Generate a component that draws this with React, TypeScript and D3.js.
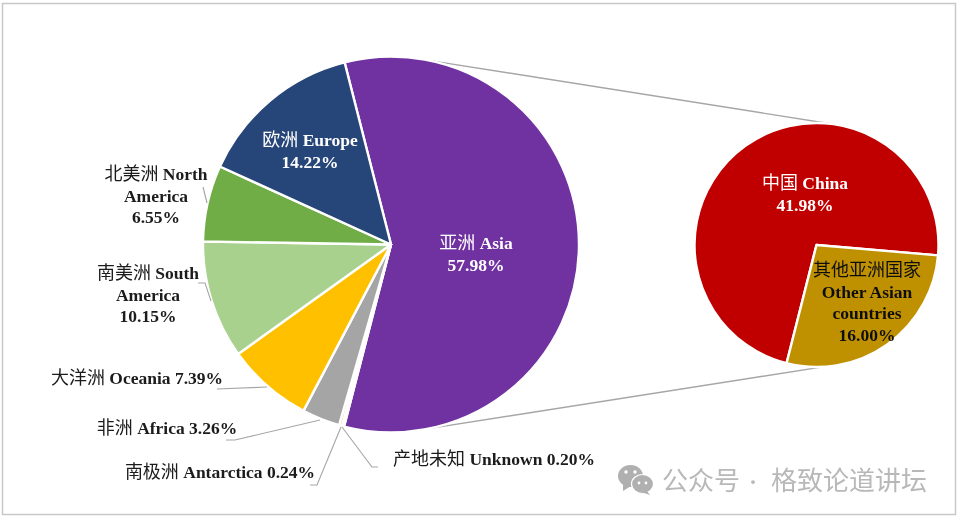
import React from "react";
import * as d3 from "d3";

const mainNames = ["Asia", "Unknown", "Antarctica", "Africa", "Oceania", "South America", "North America", "Europe"];
const mainValues = [57.98, 0.2, 0.24, 3.26, 7.39, 10.15, 6.55, 14.22];
const mainColors = ["#7030A0", "#F4B183", "#F4B183", "#A5A5A5", "#FFC000", "#A9D18E", "#70AD47", "#264478"];
const subNames = ["China", "Other Asian countries"];
const subValues = [41.98, 16.0];
const subColors = ["#C00000", "#BF9000"];

const W = 960, H = 519;
const rad = (deg: number) => (deg * Math.PI) / 180;
const MAIN = { cx: 391, cy: 244.5, r: 188, start: rad(-14.3) };
const SUB = { cx: 816.5, cy: 245, r: 122, start: rad(194.2) };

const labels = [
  { x: 476, y: 249, fill: "#fff", lines: ["亚洲 Asia", "57.98%"] },
  { x: 310, y: 146, fill: "#fff", lines: ["欧洲 Europe", "14.22%"] },
  { x: 156, y: 180, fill: "#1a1a1a", lines: ["北美洲 North", "America", "6.55%"] },
  { x: 148, y: 279, fill: "#1a1a1a", lines: ["南美洲 South", "America", "10.15%"] },
  { x: 137, y: 384, fill: "#1a1a1a", lines: ["大洋洲 Oceania 7.39%"] },
  { x: 167, y: 434, fill: "#1a1a1a", lines: ["非洲 Africa 3.26%"] },
  { x: 220, y: 478, fill: "#1a1a1a", lines: ["南极洲 Antarctica 0.24%"] },
  { x: 494, y: 465, fill: "#1a1a1a", lines: ["产地未知 Unknown 0.20%"] },
  { x: 805, y: 189, fill: "#fff", lines: ["中国 China", "41.98%"] },
  { x: 867, y: 276, fill: "#111", lines: ["其他亚洲国家", "Other Asian", "countries", "16.00%"] },
];
const lineGap = 21.7;

const leaders = [
  [[203, 187], [207, 203]],
  [[198, 283], [205, 283], [211, 301]],
  [[217, 389], [267, 387]],
  [[226, 440], [235, 440], [320, 420]],
  [[310, 485], [317, 485], [341, 427]],
  [[378, 467], [372, 467], [342, 427]],
];

const polar = (c: { cx: number; cy: number; r: number }, deg: number): [number, number] => [
  c.cx + c.r * Math.sin(rad(deg)),
  c.cy - c.r * Math.cos(rad(deg)),
];
const connectors = [
  [polar(MAIN, 12), polar(SUB, 8)],
  [polar(MAIN, 168), polar(SUB, 177)],
];

function Pie({ c, values, colors, names }: { c: typeof MAIN; values: number[]; colors: string[]; names: string[] }) {
  const arcs = d3
    .pie<number>()
    .sort(null)
    .startAngle(c.start)
    .endAngle(c.start + 2 * Math.PI)(values);
  const arc = d3.arc<d3.PieArcDatum<number>>().innerRadius(0).outerRadius(c.r);
  return (
    <g transform={`translate(${c.cx},${c.cy})`}>
      {arcs.map((a, i) => (
        <path key={names[i]} d={arc(a) ?? ""} fill={colors[i]} stroke="#fff" strokeWidth={2.4} strokeLinejoin="round" />
      ))}
    </g>
  );
}

const line = d3.line();

function LabelLine({ text, x, y, fill }: { text: string; x: number; y: number; fill: string }) {
  const parts = text.match(/[\u4e00-\u9fff]+|[^\u4e00-\u9fff]+/g) ?? [];
  return (
    <text x={x} y={y} textAnchor="middle" fill={fill} fontSize={17.5}>
      {parts.map((p, i) =>
        /[\u4e00-\u9fff]/.test(p) ? (
          <tspan key={i} fontFamily="'Noto Sans CJK SC'" fontWeight={400} fontSize={18}>
            {p}
          </tspan>
        ) : (
          <tspan key={i} fontFamily="'Liberation Serif'" fontWeight={700}>
            {p}
          </tspan>
        )
      )}
    </text>
  );
}

export default function App() {
  return (
    <svg
      width={W}
      height={H}
      viewBox={`0 0 ${W} ${H}`}
      style={{ position: "fixed", left: 0, top: 0, display: "block", background: "#fff" }}
    >
      <defs>
        <filter id="soft" x="-2%" y="-2%" width="104%" height="104%">
          <feGaussianBlur stdDeviation="0.45" />
        </filter>
      </defs>
      <g filter="url(#soft)">
        <rect x={2.5} y={3.5} width={953} height={511} fill="#fff" stroke="#c8c8c8" strokeWidth={1.5} />
        {connectors.map((l, i) => (
          <path key={i} d={line(l as [number, number][]) ?? ""} fill="none" stroke="#a6a6a6" strokeWidth={1.4} />
        ))}
        <Pie c={MAIN} values={mainValues} colors={mainColors} names={mainNames} />
        <Pie c={SUB} values={subValues} colors={subColors} names={subNames} />
        {leaders.map((l, i) => (
          <path key={i} d={line(l as [number, number][]) ?? ""} fill="none" stroke="#a6a6a6" strokeWidth={1.1} />
        ))}
        {labels.map((lb) =>
          lb.lines.map((t, i) => (
            <LabelLine key={lb.x + t} text={t} x={lb.x} y={lb.y + i * lineGap} fill={lb.fill} />
          ))
        )}
        <g fill="#b0b0b0">
          <ellipse cx={630.5} cy={476} rx={12.5} ry={11} />
          <path d="M623 485 L623 491 L631 486 Z" />
          <ellipse cx={642.5} cy={484} rx={11} ry={9.5} stroke="#fff" strokeWidth={1.2} />
          <path d="M647 491 L650 495 L641 492 Z" />
          <circle cx={626} cy={472} r={1.7} fill="#fff" />
          <circle cx={635} cy={472} r={1.7} fill="#fff" />
          <circle cx={639} cy={483} r={1.4} fill="#fff" />
          <circle cx={646} cy={483} r={1.4} fill="#fff" />
        </g>
        <g fontFamily="'Noto Sans CJK SC'" fontSize={26} fill="#b8b8b8" fontWeight={400}>
          <text x={662} y={490}>公众号</text>
          <text x={753} y={489} textAnchor="middle" fontSize={18}>·</text>
          <text x={771} y={490}>格致论道讲坛</text>
        </g>
      </g>
    </svg>
  );
}
